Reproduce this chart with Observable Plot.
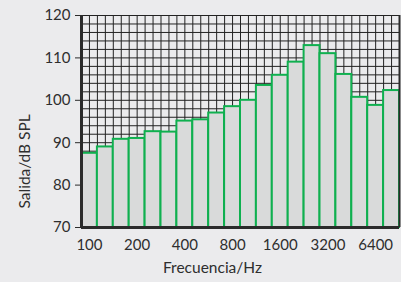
<!DOCTYPE html>
<html>
<head>
<meta charset="utf-8">
<script src="https://cdn.jsdelivr.net/npm/d3@7"></script>
<script src="https://cdn.jsdelivr.net/npm/@observablehq/plot@0.6"></script>
<style>
  html, body { margin: 0; padding: 0; background: #ebebed; }
</style>
</head>
<body>
<div id="chart"></div>
<script>
// Third-octave bands (Hz)
const bands = [100, 125, 160, 200, 250, 315, 400, 500, 630, 800, 1000, 1250, 1600, 2000, 2500, 3150, 4000, 5000, 6300, 8000];
// Output level, dB SPL
const levels = [87.5, 89.0, 90.8, 91.0, 92.6, 92.5, 95.1, 95.4, 97.0, 98.5, 100.0, 103.5, 105.9, 109.0, 112.9, 111.0, 106.1, 100.7, 98.8, 102.3];
// Labelled bands and their labels
const xTickBands = [100, 200, 400, 800, 1600, 3150, 6300];
const xTickLabels = ["100", "200", "400", "800", "1600", "3200", "6400"];
const yTicks = [70, 80, 90, 100, 110, 120];
const yTitle = "Salida/dB SPL";
const xTitle = "Frecuencia/Hz";

const data = bands.map((b, i) => ({band: b, idx: i, level: levels[i]}));
const xTickPos = xTickBands.map(b => bands.indexOf(b) + 0.5);
const labelOf = new Map(xTickPos.map((p, i) => [p, xTickLabels[i]]));

// grid positions: every 2 dB and every half band
const gridY = d3.range(70, 121, 2);
const gridX = d3.range(0, bands.length + 0.01, 0.5);

const font = "Lato, 'Open Sans', sans-serif";
const ink = "#2b2b2b";

const chart = Plot.plot({
  width: 401,
  height: 282,
  marginLeft: 81,
  marginRight: 2,
  marginTop: 15,
  marginBottom: 55,
  style: {background: "#ebebed", fontFamily: font, color: "#2e2e2e"},
  x: {domain: [0, bands.length], axis: null},
  y: {domain: [70, 120], axis: null},
  marks: [
    Plot.ruleY(gridY, {stroke: "#222", strokeWidth: 1}),
    Plot.ruleX(gridX, {stroke: "#222", strokeWidth: 1}),
    Plot.rectY(data, {
      x1: d => d.idx, x2: d => d.idx + 1, y1: 70, y2: "level",
      fill: "#d9dada", stroke: "#0fb04f", strokeWidth: 2
    }),
    Plot.ruleX([0], {stroke: ink, strokeWidth: 3}),
    Plot.ruleX([bands.length], {stroke: ink, strokeWidth: 2}),
    Plot.ruleY([70], {stroke: ink, strokeWidth: 3}),
    Plot.axisY({
      ticks: yTicks, tickSize: 6, tickPadding: 5, fontSize: 15,
      stroke: ink, label: null
    }),
    Plot.axisX({
      ticks: xTickPos, tickSize: 0, tickPadding: 12, fontSize: 15,
      tickFormat: p => labelOf.get(p), label: null
    }),
    Plot.text([xTitle], {
      frameAnchor: "bottom", lineAnchor: "middle", textAnchor: "middle", dx: -28, dy: 41,
      fontSize: 15.5, fill: "#2e2e2e"
    }),
    Plot.text([yTitle], {
      frameAnchor: "middle", lineAnchor: "middle", textAnchor: "start", rotate: -90, dx: -215, dy: 87,
      fontSize: 15.5, fill: "#2e2e2e"
    })
  ]
});
document.getElementById("chart").appendChild(chart);
</script>
</body>
</html>
